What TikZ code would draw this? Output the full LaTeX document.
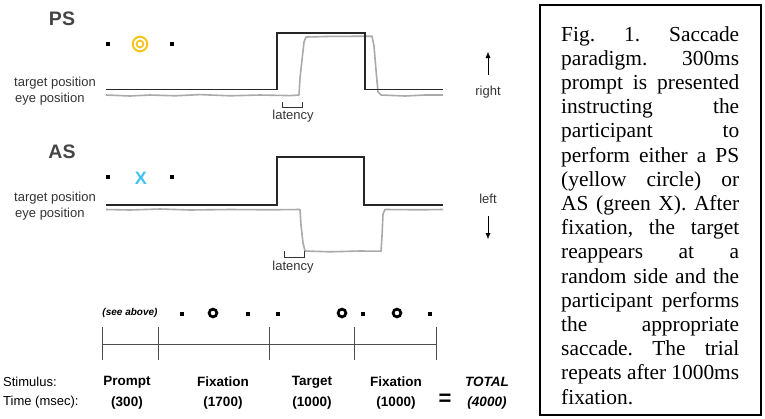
\documentclass[tikz,border=0pt]{standalone}
\usepackage{fontspec}
\setmainfont{Liberation Serif}
\setsansfont{Liberation Sans}
\usetikzlibrary{arrows.meta}
\definecolor{tracegray}{HTML}{AAAAAA}
\definecolor{labelgray}{HTML}{333333}
\definecolor{headgray}{HTML}{454545}
\definecolor{psyellow}{HTML}{F7C520}
\definecolor{ascyan}{HTML}{3EC3F2}
\newcommand{\sqdot}[1]{\fill (#1) ++(-2.2,-2.2) rectangle ++(4.4,4.4);}
\newcommand{\ringdot}[1]{\draw[line width=2.7pt] (#1) circle (3.9);}
\newcommand{\capline}[1]{\hbox to 178pt{#1}}

\begin{document}
\begin{tikzpicture}[x=1pt,y=-1pt,
	lbl/.style={font=\sffamily\fontsize{13}{13}\selectfont,text=labelgray,inner sep=0pt},
	head/.style={font=\sffamily\bfseries\fontsize{19.5}{19.5}\selectfont,text=headgray,inner sep=0pt},
	row/.style={font=\sffamily\bfseries\fontsize{13.5}{13.5}\selectfont,inner sep=0pt},
	target/.style={line width=1.5pt,draw=black!85,line join=miter},
	eye/.style={line width=1.6pt,draw=tracegray,line join=round},
	bracket/.style={line width=0.9pt,draw=labelgray}]
	
	\useasboundingbox (0,0) rectangle (765,418);
	
	% pro-saccade panel
	\node[head] (ps) at (62,19) {PS};
	\sqdot{108,44} \sqdot{172,44}
	\draw[psyellow,line width=2pt] (140,44) circle (7.3);
	\draw[psyellow,line width=1.8pt] (140,44) circle (3.4);
	\node[lbl,anchor=west] (pstarget) at (14,83) {target position};
	\node[lbl,anchor=west] (pseye) at (15,99) {eye position};
	\draw[eye] (106,95) -- (130,96) -- (150,95) -- (175,95.8) -- (200,94.6) -- (230,95.8) -- (260,95) -- (290,95.6) -- (299,95)
		-- (300,78) -- (302,60) -- (304,42) -- (306,37) -- (330,36.4) -- (372,36.2)
		-- (374,46) -- (376,70) -- (378,92) -- (381,95) -- (405,96) -- (425,95) -- (443,95);
	\draw[target] (106,89.5) -- (277,89.5) -- (277,33) -- (365,33) -- (365,89.5) -- (443,89.5);
	\draw[bracket] (282,102) -- (282,107) -- (302,107) -- (302,102);
	\node[lbl] (pslat) at (293,116) {latency};
	\node[lbl] (right) at (488,92) {right};
	\coordinate (uptail) at (488,75);
	\coordinate (uphead) at (488,52);
	\draw[-{Latex[length=6pt,width=5pt]}] (uptail) -- (uphead);
	
	% anti-saccade panel
	\node[head] (as) at (62,152) {AS};
	\sqdot{108,177} \sqdot{172,177}
	\node[font=\sffamily\bfseries\fontsize{18}{18}\selectfont,text=ascyan,inner sep=0pt] (cross) at (141,178) {X};
	\node[lbl,anchor=west] (astarget) at (14,198) {target position};
	\node[lbl,anchor=west] (aseye) at (15,214) {eye position};
	\draw[eye] (106,209.5) -- (130,210) -- (160,209) -- (190,210) -- (230,209.5) -- (270,209.8) -- (300,209.5)
		-- (301,225) -- (303,243) -- (305,251) -- (330,251.8) -- (360,251) -- (381,251.2)
		-- (382,236) -- (383,214) -- (385,209.5) -- (420,209.8) -- (443,209.5);
	\draw[target] (106,205) -- (277,205) -- (277,157) -- (364,157) -- (364,205) -- (443,205);
	\draw[bracket] (284,251) -- (284,257) -- (304,257) -- (304,251);
	\node[lbl] (aslat) at (293,267) {latency};
	\node[lbl] (left) at (488,199) {left};
	\coordinate (downtail) at (488,216);
	\coordinate (downhead) at (488,239);
	\draw[-{Latex[length=6pt,width=5pt]}] (downtail) -- (downhead);
	
	% trial timeline
	\node[font=\sffamily\bfseries\itshape\fontsize{10}{10}\selectfont,inner sep=0pt] (seeabove) at (130,313) {(see above)};
	\sqdot{182,314} \ringdot{213,313} \sqdot{248,314}
	\sqdot{278,314} \ringdot{342,313} \sqdot{363,314} \ringdot{397,313} \sqdot{430,314}
	\foreach \x in {102,158,269,354,436}
		\draw[line width=0.7pt,draw=black!70] (\x,327) -- (\x,360);
	\draw[line width=0.7pt,draw=black!70] (102,344) -- (436,344);
	
	\node[lbl,text=black,anchor=west] (stim) at (3,382) {Stimulus:};
	\node[lbl,text=black,anchor=west] (time) at (3,402) {Time (msec):};
	\foreach \x/\s/\t in {127/Prompt/300,223/Fixation/1700,312/Target/1000,396/Fixation/1000} {
		\node[row] at (\x,382) {\s};
		\node[row] at (\x,403) {(\t)};
	}
	\node[row,font=\sffamily\bfseries\itshape\fontsize{13.5}{13.5}\selectfont] (total) at (487,382) {TOTAL};
	\node[row,font=\sffamily\bfseries\itshape\fontsize{13.5}{13.5}\selectfont] (sum) at (487,403) {(4000)};
	\node[row,font=\sffamily\bfseries\fontsize{22}{22}\selectfont] (equals) at (445,400) {=};
	
	% caption box
	\draw[line width=1.3pt] (540,5) rectangle (761,415);
	\node[font=\fontsize{21.4}{24.2}\selectfont,text width=178pt,align=left,inner sep=0pt,anchor=north west] (caption) at (561,26) {%
		\lineskiplimit=-100pt\lineskip=0pt
		\capline{Fig.\hfill 1.\hfill Saccade}
		\capline{paradigm.\hfill 300ms}
		\capline{prompt\hfill is\hfill presented}
		\capline{instructing\hfill the}
		\capline{participant\hfill to}
		\capline{perform\hfill either\hfill a\hfill PS}
		\capline{(yellow\hfill circle)\hfill or}
		\capline{AS\hfill (green\hfill X).\hfill After}
		\capline{fixation,\hfill the\hfill target}
		\capline{reappears\hfill at\hfill a}
		\capline{random\hfill side\hfill and\hfill the}
		\capline{participant\hfill performs}
		\capline{the\hfill appropriate}
		\capline{saccade.\hfill The\hfill trial}
		\capline{repeats\hfill after\hfill 1000ms}
		\capline{fixation.\hfill}};
\end{tikzpicture}
\end{document}
